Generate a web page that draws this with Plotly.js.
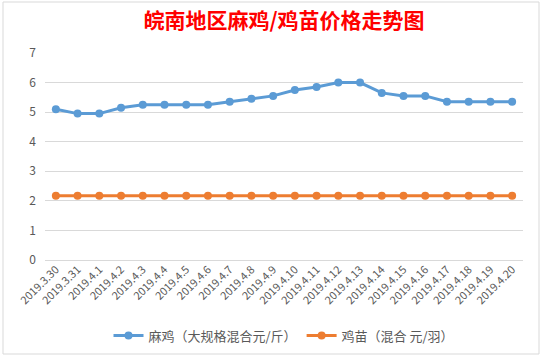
<!DOCTYPE html>
<html>
<head>
<meta charset="utf-8">
<script src="https://cdn.plot.ly/plotly-3.0.1.min.js"></script>
<style>html,body{margin:0;padding:0;background:#fff;}#chart{width:541px;height:359px;}</style>
</head>
<body>
<div id="chart"></div>
<script>
const dates = ["2019.3.30","2019.3.31","2019.4.1","2019.4.2","2019.4.3","2019.4.4","2019.4.5","2019.4.6","2019.4.7","2019.4.8","2019.4.9","2019.4.10","2019.4.11","2019.4.12","2019.4.13","2019.4.14","2019.4.15","2019.4.16","2019.4.17","2019.4.18","2019.4.19","2019.4.20"];
const maji = [5.1,4.95,4.95,5.15,5.25,5.25,5.25,5.25,5.35,5.45,5.55,5.75,5.85,6.0,6.0,5.65,5.55,5.55,5.35,5.35,5.35,5.35];
const jimiao = [2.17,2.17,2.17,2.17,2.17,2.17,2.17,2.17,2.17,2.17,2.17,2.17,2.17,2.17,2.17,2.17,2.17,2.17,2.17,2.17,2.17,2.17];
const seriesNames = ["麻鸡（大规格混合元/斤）","鸡苗（混合 元/羽）"];
const titleText = "皖南地区麻鸡/鸡苗价格走势图";

const font = "'Noto Sans CJK SC', 'Microsoft YaHei', sans-serif";
const traces = [
  {x: dates, y: maji, name: seriesNames[0], type: "scatter", mode: "lines+markers",
   line: {color: "#5B9BD5", width: 3}, marker: {color: "#5B9BD5", size: 8}},
  {x: dates, y: jimiao, name: seriesNames[1], type: "scatter", mode: "lines+markers",
   line: {color: "#ED7D31", width: 3}, marker: {color: "#ED7D31", size: 8}}
];
const layout = {
  width: 541, height: 359,
  margin: {l: 45, r: 18, t: 53, b: 99, autoexpand: false},
  paper_bgcolor: "#fff", plot_bgcolor: "#fff",
  font: {family: font, color: "#595959", size: 12},
  title: {text: "<b>" + titleText + "</b>", font: {family: font, size: 21, color: "#FF0000"},
          x: 0.5, xanchor: "center", xref: "paper", y: 0.942, yref: "container", yanchor: "middle"},
  xaxis: {type: "category", range: [-0.5, 21.5], tickangle: -45, showgrid: false, automargin: false,
          showline: false, zeroline: false, ticks: "", tickfont: {size: 11, color: "#595959"}, fixedrange: true},
  yaxis: {range: [0, 7], dtick: 1, showgrid: true, gridcolor: "#D9D9D9", gridwidth: 1, automargin: false,
          zeroline: true, zerolinecolor: "#D9D9D9", zerolinewidth: 1, showline: false, ticks: "",
          ticklabelstandoff: 8, tickfont: {size: 12, color: "#595959"}, fixedrange: true},
  legend: {orientation: "h", x: 0.5, xanchor: "center", y: -0.365, yanchor: "middle",
           font: {size: 13, color: "#595959"}, itemwidth: 30},
  showlegend: true,
  shapes: [
    {type: "rect", xref: "paper", yref: "paper", x0: -42/478, x1: 1 + 16/478, y0: -(354-260)/207, y1: 1 + (53-2)/207,
     line: {color: "#D9D9D9", width: 1}, fillcolor: "rgba(0,0,0,0)"}
  ]
};
Plotly.newPlot("chart", traces, layout, {displayModeBar: false, staticPlot: true});
</script>
</body>
</html>
